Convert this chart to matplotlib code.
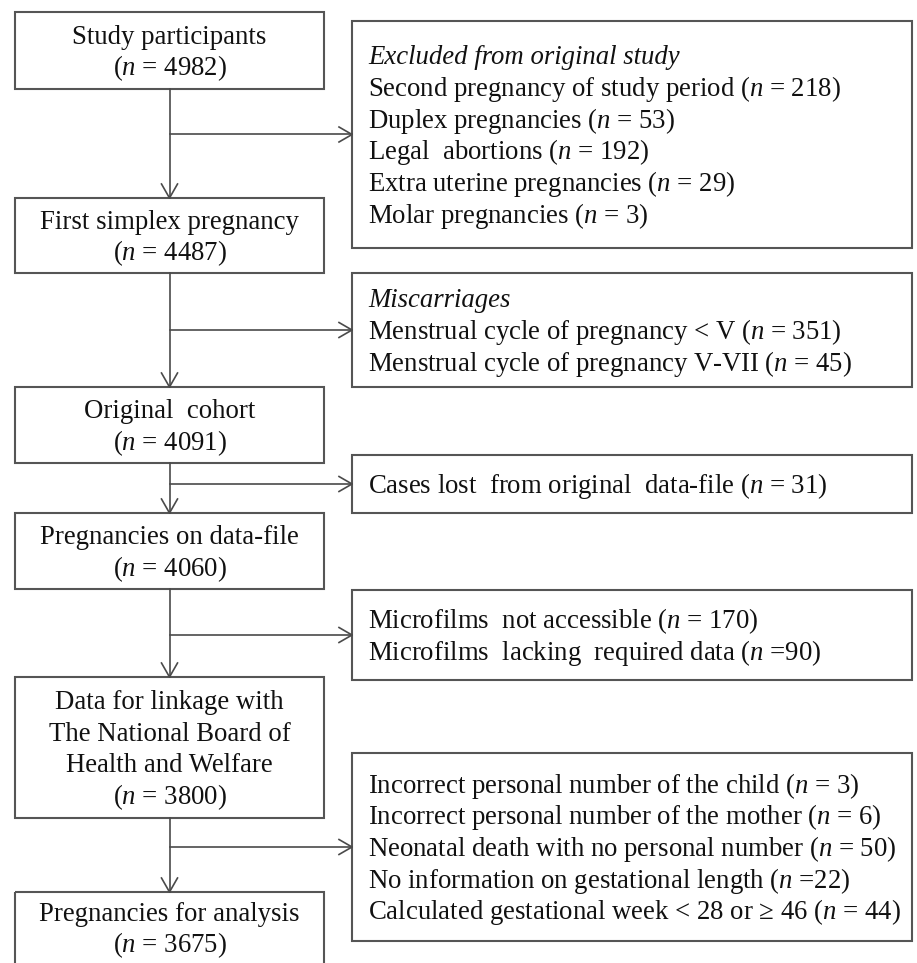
"""
Cohort selection flowchart (study participants -> pregnancies for analysis).
Output: out.png
"""

import matplotlib
matplotlib.use("Agg")
import matplotlib.pyplot as plt
from matplotlib.patches import Rectangle


# ── Data ──────────────────────────────────────────────────────────────
STEP_LABELS = [
    ["Study participants"],
    ["First simplex pregnancy"],
    ["Original  cohort"],
    ["Pregnancies on data-file"],
    ["Data for linkage with", "The National Board of", "Health and Welfare"],
    ["Pregnancies for analysis"],
]
STEP_N = [4982, 4487, 4091, 4060, 3800, 3675]

EXCL_HEADERS = ["Excluded from original study", "Miscarriages", None, None, None]

EXCL1_ITEMS = ["Second pregnancy of study period", "Duplex pregnancies",
               "Legal  abortions", "Extra uterine pregnancies",
               "Molar pregnancies"]
EXCL1_N = [218, 53, 192, 29, 3]

EXCL2_ITEMS = ["Menstrual cycle of pregnancy < V",
               "Menstrual cycle of pregnancy V-VII"]
EXCL2_N = [351, 45]

EXCL3_ITEMS = ["Cases lost  from original  data-file"]
EXCL3_N = [31]

EXCL4_ITEMS = ["Microfilms  not accessible", "Microfilms  lacking  required data"]
EXCL4_N = [170, 90]
EXCL4_EQ = [" = ", " ="]

EXCL5_ITEMS = ["Incorrect personal number of the child",
               "Incorrect personal number of the mother",
               "Neonatal death with no personal number",
               "No information on gestational length",
               "Calculated gestational week < 28 or \u2265 46"]
EXCL5_N = [3, 6, 50, 22, 44]
EXCL5_EQ = [" = ", " = ", " = ", " =", " = "]

EXCL_ITEMS = [EXCL1_ITEMS, EXCL2_ITEMS, EXCL3_ITEMS, EXCL4_ITEMS, EXCL5_ITEMS]
EXCL_N = [EXCL1_N, EXCL2_N, EXCL3_N, EXCL4_N, EXCL5_N]
EXCL_EQ = [[" = "] * 5, [" = "] * 2, [" = "], EXCL4_EQ, EXCL5_EQ]


# ── Layout (pixel coordinates, y downwards) ───────────────────────────
W, H = 917, 963
LEFT_X = (15, 324)
LEFT_Y = [(12, 89), (198, 273), (387, 463), (513, 589), (677, 818), (892, 980)]
RIGHT_X = (352, 912)
RIGHT_Y = [(21, 248), (273, 387), (455, 513), (590, 680), (753, 941)]
TEXT_X = 368
LINE = 31.7
FS = 19.3
EDGE = "#555555"
LINK = "#4a4a4a"
INK = "#111111"

plt.rcParams["font.family"] = ["Liberation Serif", "DejaVu Serif"]
plt.rcParams["mathtext.fontset"] = "custom"
plt.rcParams["mathtext.rm"] = "Liberation Serif"
plt.rcParams["mathtext.it"] = "Liberation Serif:italic"


def n_text(n, eq=" = "):
    return f"($n${eq}{n})"


def draw_lines(ax, lines, x, y0, y1, ha, styles=None):
    """Stack lines vertically centred in [y0, y1]."""
    mid = (y0 + y1) / 2
    top = mid - LINE * (len(lines) - 1) / 2
    for i, txt in enumerate(lines):
        st = styles[i] if styles else "normal"
        ax.text(x, top + i * LINE + 9, txt, ha=ha, va="baseline",
                fontsize=FS, color=INK, fontstyle=st)


fig = plt.figure(figsize=(W / 100, H / 100), dpi=100)
ax = fig.add_axes([0, 0, 1, 1])
ax.set_xlim(0, W)
ax.set_ylim(H, 0)
ax.axis("off")

# Main boxes (the last one runs off the bottom edge, as in the source;
# its text is centred on the visible part)
cx = sum(LEFT_X) / 2
for (y0, y1), lab, n in zip(LEFT_Y, STEP_LABELS, STEP_N):
    ax.add_patch(Rectangle((LEFT_X[0], y0), LEFT_X[1] - LEFT_X[0], y1 - y0,
                           fill=False, edgecolor=EDGE, linewidth=1.5))
    draw_lines(ax, lab + [n_text(n)], cx, y0, min(y1, H), "center")

# Exclusion boxes
for (y0, y1), head, items, ns, eqs in zip(RIGHT_Y, EXCL_HEADERS, EXCL_ITEMS,
                                           EXCL_N, EXCL_EQ):
    ax.add_patch(Rectangle((RIGHT_X[0], y0), RIGHT_X[1] - RIGHT_X[0], y1 - y0,
                           fill=False, edgecolor=EDGE, linewidth=1.5))
    lines = [f"{it} {n_text(n, eq)}" for it, n, eq in zip(items, ns, eqs)]
    styles = ["normal"] * len(lines)
    if head:
        lines = [head] + lines
        styles = ["italic"] + styles
    draw_lines(ax, lines, TEXT_X, y0, y1, "left", styles)

# Connectors: down arrows between main boxes, side arrows to exclusions
for i in range(len(LEFT_Y) - 1):
    yb, yt = LEFT_Y[i][1], LEFT_Y[i + 1][0]
    ax.plot([cx, cx], [yb, yt], color=LINK, lw=1.2)
    ax.plot([cx - 8, cx, cx + 8], [yt - 14, yt, yt - 14], color=LINK, lw=1.2)
    ya = sum(RIGHT_Y[i]) / 2
    xr = RIGHT_X[0]
    ax.plot([cx, xr], [ya, ya], color=LINK, lw=1.2)
    ax.plot([xr - 13, xr, xr - 13], [ya - 7.5, ya, ya + 7.5], color=LINK, lw=1.2)

fig.savefig("out.png", dpi=100, facecolor="white")
plt.close(fig)
